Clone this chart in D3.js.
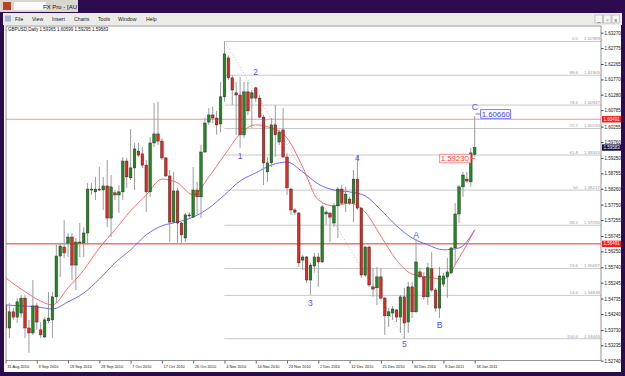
<!DOCTYPE html>
<html lang="en">
<head>
<meta charset="utf-8">
<title>GBPUSD Daily</title>
<script type="text/javascript" src="https://cdnjs.cloudflare.com/ajax/libs/d3/7.8.5/d3.min.js"></script>
<style type="text/css">
    body{margin:0;background:#2c0b4f;}
    svg{display:block;font-family:"Liberation Sans",Arial,sans-serif;}
</style>
</head>
<body>
<div id="chart1"></div>
<script type="text/javascript">
// daily candles, 31 Aug 2010 .. 18 Jan 2011
var open = [1.5453,1.5379,1.5431,1.5414,1.5427,1.5475,1.5379,1.5363,1.5450,1.5373,
    1.5350,1.5402,1.5405,1.5479,1.5610,1.5639,1.5652,1.5671,1.5581,1.5655,
    1.5652,1.5684,1.5825,1.5816,1.5825,1.5822,1.5835,1.5732,1.5813,1.5806,
    1.5816,1.5915,1.5861,1.5893,1.5947,1.5938,1.5902,1.5816,1.5973,1.6002,
    1.5979,1.5925,1.5867,1.5719,1.5819,1.5716,1.5668,1.5742,1.5735,1.5822,
    1.5800,1.5944,1.6040,1.6063,1.6053,1.6034,1.6121,1.6246,1.6182,1.6134,
    1.6127,1.5999,1.6137,1.6117,1.6150,1.6117,1.6056,1.5880,1.5909,1.6031,
    1.5976,1.6015,1.5928,1.5825,1.5758,1.5748,1.5597,1.5607,1.5533,1.5578,
    1.5607,1.5591,1.5745,1.5748,1.5716,1.5771,1.5825,1.5780,1.5793,1.5780,
    1.5857,1.5764,1.5549,1.5639,1.5511,1.5508,1.5543,1.5475,1.5418,1.5427,
    1.5437,1.5414,1.5479,1.5398,1.5511,1.5431,1.5559,1.5543,1.5479,1.5569,
    1.5501,1.5443,1.5520,1.5543,1.5556,1.5636,1.5745,1.5832,1.5857,1.5848,
    1.59365]
var high = [1.5463,1.5459,1.5443,1.5475,1.5485,1.5485,1.5405,1.5533,1.5459,1.5398,
    1.5414,1.5495,1.5495,1.5646,1.5652,1.5726,1.5684,1.5684,1.5668,1.5716,
    1.5703,1.5845,1.5845,1.5864,1.5896,1.5864,1.5918,1.5870,1.5822,1.5838,
    1.5928,1.5925,1.6018,1.5973,1.5973,1.5960,1.5918,1.5992,1.6101,1.6105,
    1.5989,1.5928,1.5886,1.5880,1.5829,1.5719,1.5748,1.5751,1.5896,1.5848,
    1.5967,1.6053,1.6085,1.6089,1.6076,1.6169,1.62989,1.6255,1.6191,1.6169,
    1.6185,1.6169,1.6169,1.6143,1.6153,1.6127,1.6063,1.5928,1.6053,1.6095,
    1.6015,1.6085,1.5941,1.5829,1.5764,1.5751,1.5613,1.5610,1.5588,1.5620,
    1.5620,1.5774,1.5758,1.5751,1.5780,1.5832,1.5838,1.5832,1.5800,1.5886,
    1.5934,1.5768,1.5642,1.5642,1.5572,1.5575,1.5572,1.5479,1.5443,1.5450,
    1.5440,1.5485,1.5508,1.5527,1.5527,1.5665,1.5572,1.5559,1.5588,1.5623,
    1.5508,1.5575,1.5556,1.5604,1.5639,1.5780,1.5838,1.5880,1.5880,1.5957,
    1.60599]
var low = [1.5325,1.5347,1.5405,1.5395,1.5411,1.5347,1.5299,1.5357,1.5373,1.5347,
    1.5347,1.5395,1.5347,1.5459,1.5543,1.5604,1.5607,1.5533,1.5501,1.5607,
    1.5607,1.5646,1.5806,1.5790,1.5819,1.5758,1.5703,1.5671,1.5790,1.5748,
    1.5790,1.5829,1.5854,1.5822,1.5928,1.5893,1.5751,1.5800,1.5960,1.5967,
    1.5918,1.5864,1.5655,1.5716,1.5652,1.5652,1.5655,1.5732,1.5732,1.5742,
    1.5732,1.5941,1.6031,1.6037,1.5999,1.6008,1.6105,1.6175,1.6095,1.5999,
    1.5957,1.5989,1.6063,1.6021,1.6105,1.6053,1.5838,1.5848,1.5896,1.5928,
    1.5967,1.5925,1.5806,1.5742,1.5742,1.5575,1.5565,1.5524,1.5485,1.5556,
    1.5511,1.5588,1.5710,1.5655,1.5703,1.5668,1.5774,1.5751,1.5774,1.5719,
    1.5758,1.5540,1.5543,1.5511,1.5479,1.5453,1.5469,1.5357,1.5382,1.5405,
    1.5398,1.5363,1.53445,1.5363,1.5411,1.5427,1.5540,1.5469,1.5453,1.5495,
    1.5431,1.5411,1.5511,1.5475,1.5552,1.5581,1.5716,1.5800,1.5845,1.5832,
    1.59295]
var close = [1.5379,1.5431,1.5414,1.5463,1.5475,1.5379,1.5363,1.5450,1.5398,1.5357,
    1.5405,1.5411,1.5479,1.5610,1.5642,1.5620,1.5671,1.5581,1.5655,1.5652,
    1.5684,1.5825,1.5822,1.5825,1.5822,1.5835,1.5732,1.5832,1.5806,1.5816,
    1.5915,1.5864,1.5893,1.5954,1.5934,1.5902,1.5816,1.5973,1.6002,1.5979,
    1.5925,1.5867,1.5719,1.5819,1.5716,1.5678,1.5742,1.5739,1.5822,1.5800,
    1.5944,1.6037,1.6063,1.6053,1.6031,1.6121,1.6259,1.6182,1.6143,1.6127,
    1.5999,1.6137,1.6076,1.6134,1.6117,1.6056,1.5909,1.5909,1.6031,1.5999,
    1.6008,1.5928,1.5829,1.5758,1.5751,1.5588,1.5607,1.5533,1.5581,1.5607,
    1.5591,1.5768,1.5751,1.5735,1.5771,1.5825,1.5780,1.5809,1.5780,1.5857,
    1.5764,1.5549,1.5639,1.5517,1.5504,1.5543,1.5475,1.5418,1.5431,1.5440,
    1.5414,1.5479,1.5395,1.5511,1.5431,1.5591,1.5543,1.5479,1.5572,1.5501,
    1.5443,1.5546,1.5546,1.5559,1.5636,1.5745,1.5832,1.5870,1.5851,1.5941,
    1.59583]

// moving averages, read every 4th bar
var maBars = [0,4,8,12,16,20,24,28,32,36,40,44,48,52,56,60,64,68,72,76,80,84,88,92,96,100,104,108,112,116,120]
var redMA = [1.5540,1.5504,1.5472,1.5453,1.5508,1.5565,1.5636,1.5694,1.5755,1.5806,1.5857,1.5845,1.5806,1.5864,1.5934,1.6002,
    1.6031,1.6021,1.5989,1.5896,1.5790,1.5771,1.5780,1.5751,1.5674,1.5597,1.5552,1.5543,1.5536,1.5604,1.5694]
var blueMA = [1.5453,1.5450,1.5447,1.5440,1.5463,1.5491,1.5536,1.5588,1.5630,1.5678,1.5707,1.5719,1.5735,1.5764,1.5806,1.5851,
    1.5877,1.5902,1.5912,1.5880,1.5841,1.5822,1.5816,1.5803,1.5758,1.5707,1.5668,1.5646,1.5630,1.5636,1.5694]

var dateBars = [0,8,16,24,32,40,48,56,64,72,80,88,96,104,112,120]
var dateLabels = ["31 Aug 2010","9 Sep 2010","19 Sep 2010","28 Sep 2010","7 Oct 2010","17 Oct 2010","26 Oct 2010","4 Nov 2010",
    "14 Nov 2010","23 Nov 2010","2 Dec 2010","12 Dec 2010","21 Dec 2010","30 Dec 2010","9 Jan 2011","18 Jan 2011"]
var priceTicks = [1.63270,1.62775,1.62265,1.61770,1.61280,1.60785,1.60255,1.59760,1.59250,1.58755,1.58260,
    1.57750,1.57255,1.56745,1.56250,1.55740,1.55245,1.54735,1.54240,1.53730,1.53235,1.52740]

// fibo retracement drawn from the swing high bar
var fibLevels = ["0.0","88.6","78.6","70.7","61.8","50","38.2","23.6","14.6","100.0"]
var fibPrices = [1.62989,1.61905,1.60947,1.60193,1.59343,1.58217,1.57090,1.55697,1.54838,1.53445]
var fibFromBar = 56, fibToBar = 102

var hLines = [1.60491,1.56491]
var waveText = ["1","2","3","4","5","A","B","C"]
var waveBars = [60,64,78,90,102,105,111,120]
var wavePrices = [1.5931,1.6201,1.5459,1.5925,1.5328,1.5678,1.5389,1.6089]
var rightLabel = 1.60660, leftLabel = 1.59230

var menuItems = ["File","View","Insert","Charts","Tools","Window","Help"]
var menuX = [15,32,52,74,98,118,146]

var w = 625, h = 376
var plot = {left:6, right:601, top:26, bottom:360.5}

var svg = d3.select("#chart1").append("svg").attr("width",w).attr("height",h)

// ---- window chrome
svg.append("rect").attr("width",w).attr("height",h).attr("fill","#2c0b4f")
svg.append("rect").attr("x",0).attr("y",0).attr("width",78).attr("height",12).attr("fill","#d9d6d0")
svg.append("rect").attr("x",14).attr("y",2).attr("width",32).attr("height",8).attr("fill","#fbfbfb")
svg.append("rect").attr("x",3).attr("y",2).attr("width",8).attr("height",8).attr("fill","#b8432b")
svg.append("text").attr("x",77).attr("y",9).attr("text-anchor","end")
    .attr("font-size",6).attr("fill","#111").text("FX Pro - [AU")

svg.append("rect").attr("x",3).attr("y",13).attr("width",619).attr("height",12).attr("fill","#ebebe8")
svg.append("rect").attr("x",5).attr("y",15.5).attr("width",6).attr("height",6).attr("fill","#9fb6d9")
svg.selectAll(".menu").data(menuItems).enter().append("text")
    .attr("x",function(d,i){ return menuX[i] })
    .attr("y",21)
    .attr("font-size",5.2)
    .attr("fill","#222")
    .text(function(d){ return d })
svg.selectAll(".wbtn").data(["_","\u25ab","x"]).enter().append("g")
    .each(function(d,i){
        var g = d3.select(this)
        g.append("rect").attr("x",595+i*8.5).attr("y",15).attr("width",7.5).attr("height",8)
            .attr("fill","#f4f4f4").attr("stroke","#9a9a9a").attr("stroke-width",0.5)
        g.append("text").attr("x",598.8+i*8.5).attr("y",21.5).attr("text-anchor","middle")
            .attr("font-size",5).attr("fill","#333").text(d)
    })

// chart window
svg.append("rect").attr("x",4).attr("y",25).attr("width",617).attr("height",347).attr("fill","#fff")

var xScale = d3.scaleLinear().domain([0,120]).range([5.5,474.7])
var yScale = d3.scaleLinear().domain([1.52740,1.63270]).range([360.7,32.7])

svg.append("clipPath").attr("id","clip").append("rect")
    .attr("x",plot.left).attr("y",plot.top)
    .attr("width",plot.right-plot.left).attr("height",plot.bottom-plot.top)
var chart = svg.append("g").attr("clip-path","url(#clip)")

// fibo lines
chart.selectAll(".fib").data(fibPrices).enter().append("line")
    .attr("x1",xScale(fibFromBar)).attr("x2",plot.right)
    .attr("y1",function(d){ return yScale(d) })
    .attr("y2",function(d){ return yScale(d) })
    .attr("stroke","#c8c8c8").attr("stroke-width",1)
chart.append("line")
    .attr("x1",xScale(fibFromBar)).attr("y1",yScale(fibPrices[0]))
    .attr("x2",xScale(fibToBar)).attr("y2",yScale(fibPrices[fibPrices.length-1]))
    .attr("stroke","#a8a8a8").attr("stroke-width",0.8).attr("stroke-dasharray","1,2")
chart.selectAll(".fibLvl").data(fibLevels).enter().append("text")
    .attr("x",578).attr("y",function(d,i){ return yScale(fibPrices[i])-1.2 })
    .attr("text-anchor","end").attr("font-size",4.4).attr("fill","#9a9a9a")
    .text(function(d){ return d })
chart.selectAll(".fibPx").data(fibPrices).enter().append("text")
    .attr("x",584).attr("y",function(d){ return yScale(d)-1.2 })
    .attr("font-size",4.4).attr("fill","#9a9a9a")
    .text(function(d){ return d.toFixed(5) })

// red horizontal levels
chart.selectAll(".hl").data(hLines).enter().append("line")
    .attr("x1",plot.left).attr("x2",plot.right)
    .attr("y1",function(d){ return yScale(d) })
    .attr("y2",function(d){ return yScale(d) })
    .attr("stroke",function(d,i){ return i==0 ? "#ff9090" : "#cf3a34" })
    .attr("stroke-width",1)

// moving averages
var maLine = function(vals){
    return d3.line()
        .x(function(d,i){ return xScale(maBars[i]) })
        .y(function(d){ return yScale(d) })
        .curve(d3.curveMonotoneX)(vals)
}
chart.append("path").attr("d",maLine(blueMA)).attr("fill","none").attr("stroke","#5a5aff").attr("stroke-width",0.9)
chart.append("path").attr("d",maLine(redMA)).attr("fill","none").attr("stroke","#ff5a5a").attr("stroke-width",0.9)

// candles
var bw = 2.6
var candles = chart.selectAll(".candle").data(d3.range(open.length)).enter().append("g")
candles.append("line")
    .attr("x1",function(i){ return xScale(i) })
    .attr("x2",function(i){ return xScale(i) })
    .attr("y1",function(i){ return yScale(high[i]) })
    .attr("y2",function(i){ return yScale(low[i]) })
    .attr("stroke","#9c9c9c").attr("stroke-width",1)
candles.append("rect")
    .attr("x",function(i){ return xScale(i)-bw/2 })
    .attr("y",function(i){ return yScale(Math.max(open[i],close[i])) })
    .attr("width",bw)
    .attr("height",function(i){ return Math.max(1,Math.abs(yScale(open[i])-yScale(close[i]))) })
    .attr("fill",function(i){ return close[i]>=open[i] ? "#1f8a1f" : "#e8261e" })
    .attr("stroke","#262626").attr("stroke-width",0.45)

// wave labels
chart.selectAll(".wave").data(waveText).enter().append("text")
    .attr("x",function(d,i){ return xScale(waveBars[i]) })
    .attr("y",function(d,i){ return yScale(wavePrices[i]) })
    .attr("text-anchor","middle").attr("dominant-baseline","central")
    .attr("font-size",8.5).attr("fill","#5050ff")
    .text(function(d){ return d })

// price labels on last bar
var lastX = xScale(open.length-1)
chart.append("line").attr("x1",lastX+1).attr("x2",lastX+6)
    .attr("y1",yScale(rightLabel)).attr("y2",yScale(rightLabel)).attr("stroke","#6a6aff")
chart.append("rect").attr("x",lastX+6).attr("y",yScale(rightLabel)-4.3).attr("width",30).attr("height",8.6)
    .attr("fill","#fff").attr("stroke","#5a5aff").attr("stroke-width",0.8)
chart.append("text").attr("x",lastX+7).attr("y",yScale(rightLabel)+2.8)
    .attr("font-size",7.8).attr("fill","#3c3cff").text(rightLabel.toFixed(5))
chart.append("line").attr("x1",lastX-4).attr("x2",lastX)
    .attr("y1",yScale(leftLabel)).attr("y2",yScale(leftLabel)).attr("stroke","#ff5a5a")
chart.append("rect").attr("x",lastX-35).attr("y",yScale(leftLabel)-4.3).attr("width",31).attr("height",8.6)
    .attr("fill","#fff").attr("stroke","#ff6a6a").attr("stroke-width",0.8)
chart.append("text").attr("x",lastX-34).attr("y",yScale(leftLabel)+2.8)
    .attr("font-size",7.8).attr("fill","#ff3a3a").text(leftLabel.toFixed(5))

// plot border
svg.append("rect").attr("x",plot.left).attr("y",plot.top)
    .attr("width",plot.right-plot.left).attr("height",plot.bottom-plot.top)
    .attr("fill","none").attr("stroke","#7c7c7c").attr("stroke-width",0.8)

// header
var last = open.length-1
svg.append("text").attr("x",8).attr("y",31).attr("font-size",4.5).attr("fill","#111")
    .text("GBPUSD,Daily  "+[open[last],high[last],low[last],close[last]].map(function(d){ return d.toFixed(5) }).join(" "))

// right price axis
var yAxis = svg.append("g").attr("transform","translate("+plot.right+",0)")
    .call(d3.axisRight(yScale).tickValues(priceTicks).tickFormat(d3.format(".5f")).tickSize(2.5).tickPadding(1))
yAxis.select(".domain").remove()
yAxis.selectAll("line").attr("stroke","#444")
yAxis.selectAll("text").attr("font-size",4.5).attr("fill","#111").attr("font-family","Liberation Sans")

// highlighted axis labels
var tags = [{p:hLines[0],fill:"#ff1a1a",txt:"#fff"},{p:hLines[1],fill:"#ff1a1a",txt:"#fff"},{p:close[last],fill:"#14143c",txt:"#fff"}]
tags.forEach(function(t){
    svg.append("rect").attr("x",plot.right+1).attr("y",yScale(t.p)-3.2).attr("width",19).attr("height",6.4).attr("fill",t.fill)
    svg.append("text").attr("x",plot.right+2.5).attr("y",yScale(t.p)+1.6).attr("font-size",4.5).attr("fill",t.txt).text(t.p.toFixed(5))
})

// date axis
var xAxis = svg.append("g").attr("transform","translate(0,"+plot.bottom+")")
    .call(d3.axisBottom(xScale).tickValues(dateBars).tickSize(3).tickFormat(function(d,i){ return dateLabels[i] }))
xAxis.select(".domain").remove()
xAxis.selectAll("line").attr("stroke","#666")
xAxis.selectAll("text").attr("text-anchor","start").attr("x",1.2).attr("y",4.6)
    .attr("font-size",3.9).attr("fill","#111").attr("font-family","Liberation Sans")
</script>
</body>
</html>
